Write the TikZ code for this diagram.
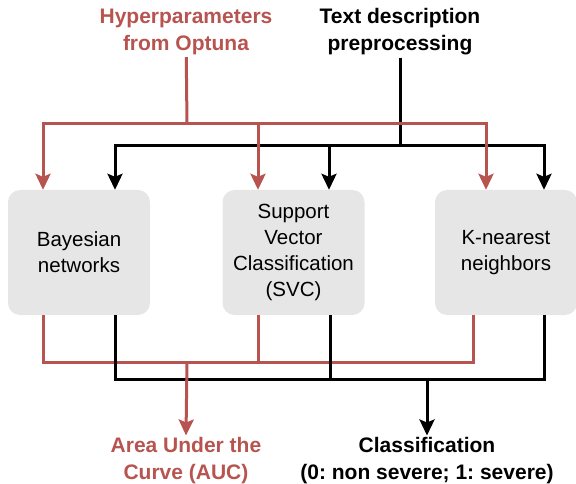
\documentclass[tikz,border=0pt]{standalone}
\usepackage{fontspec}
\setmainfont{Liberation Sans}
\frenchspacing
\usetikzlibrary{arrows.meta,positioning}
\definecolor{optred}{HTML}{B85450}
\definecolor{boxgray}{HTML}{E6E6E6}

\begin{document}
\begin{tikzpicture}[x=1pt,y=-1pt,
    modelbox/.style={fill=boxgray,rounded corners=12pt,minimum width=142pt,minimum height=125pt,
      align=center,font=\fontsize{20.5}{26}\selectfont},
    headtext/.style={font=\fontsize{21}{27}\selectfont\bfseries,align=center,inner sep=2pt},
    redline/.style={line width=3pt,draw=optred},
    blackline/.style={line width=3pt,draw=black},
    redflow/.style={redline,-{Stealth[length=16pt,width=15pt,inset=3pt]}},
    blackflow/.style={blackline,-{Stealth[length=16pt,width=15pt,inset=3pt]}}
  ]
    \useasboundingbox (0,0) rectangle (576,484);
    % inputs
    \node[headtext,text=optred] (hyper) at (186,32) {Hyperparameters\\from Optuna};
    \node[headtext] (textprep) at (400,32) {Text description\\preprocessing};
    % models
    \node[modelbox] (bayes) at (79,252.5) {Bayesian\\networks};
    \node[modelbox] (svc) at (293.5,252.5) {Support\\Vector\\Classification\\(SVC)};
    \node[modelbox] (knn) at (506,252.5) {K-nearest\\neighbors};
    % outputs
    \node[headtext,text=optred] (auc) at (186,461) {Area Under the\\Curve (AUC)};
    \node[headtext] (cls) at (427,461) {Classification\\(0: non severe; 1: severe)};
    \coordinate (hsplit) at (187,124);
    \coordinate (tsplit) at (400,146);
    \coordinate (aucjoin) at (187,362);
    \coordinate (clsjoin) at (427,379);
    % text description to models
    \draw[blackline] (textprep) -- (tsplit);
    \draw[blackflow] (tsplit) -| ([xshift=36pt]bayes.north);
    \draw[blackflow] (tsplit) -| ([xshift=35.5pt]svc.north);
    \draw[blackflow] (tsplit) -| ([xshift=38pt]knn.north);
    % hyperparameters to models
    \draw[redline] (hyper) -- (hsplit);
    \draw[redflow] (hsplit) -| ([xshift=-36pt]bayes.north);
    \draw[redflow] (hsplit) -| ([xshift=-35.5pt]svc.north);
    \draw[redflow] (hsplit) -| ([xshift=-20pt]knn.north);
    % models to AUC
    \draw[redline] ([xshift=-36pt]bayes.south) |- (aucjoin);
    \draw[redline] ([xshift=-35.5pt]svc.south) |- (aucjoin);
    \draw[redline] ([xshift=-33pt]knn.south) |- (aucjoin);
    % models to classification
    \draw[blackline] ([xshift=36pt]bayes.south) |- (clsjoin);
    \draw[blackline] ([xshift=36.5pt]svc.south) |- (clsjoin);
    \draw[blackline] ([xshift=38pt]knn.south) |- (clsjoin);
    \draw[blackflow] (clsjoin) -- (cls.north);
    \draw[redflow] (aucjoin) -- (auc.north);
  \end{tikzpicture}
\end{document}
